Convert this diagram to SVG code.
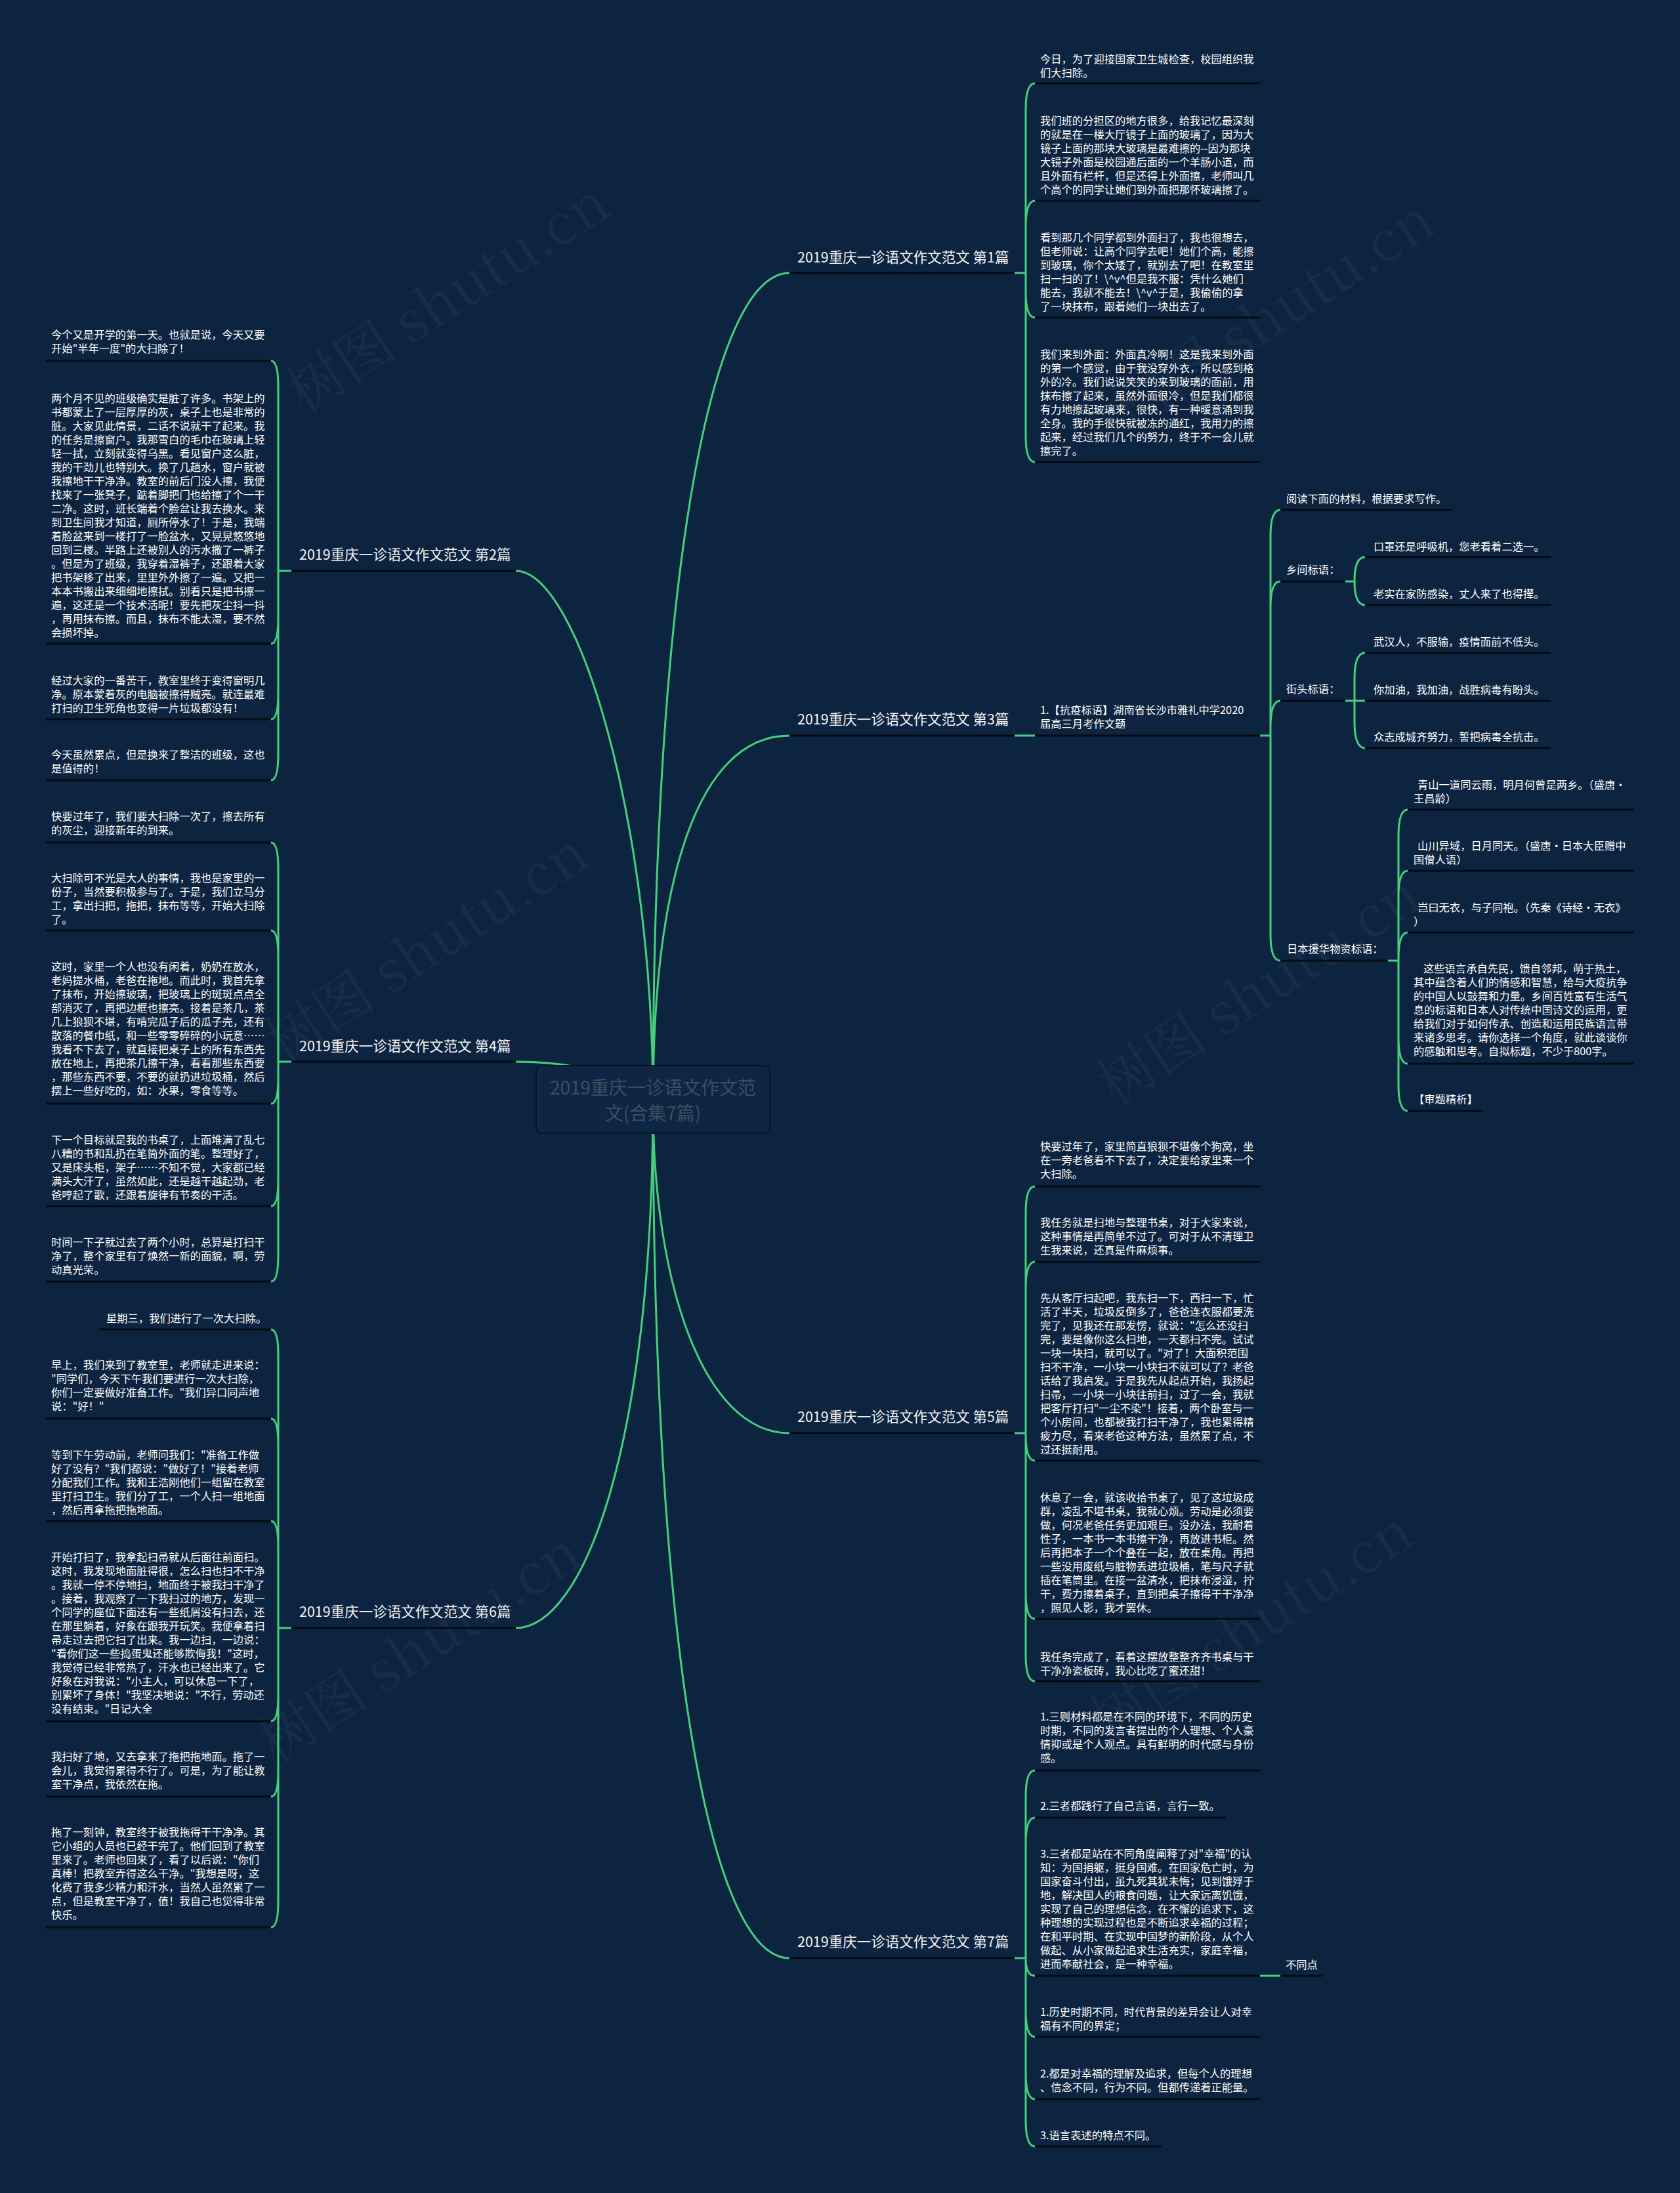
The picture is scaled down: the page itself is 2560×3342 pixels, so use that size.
<svg xmlns="http://www.w3.org/2000/svg" width="2560" height="3342" viewBox="0 0 2560 3342">
<style>
.ul{stroke:#030a14;stroke-width:3;fill:none}
.c{stroke:#45d07c;stroke-width:3;fill:none;stroke-linecap:round}
.t{font-family:"Noto Sans CJK SC","Noto Sans",sans-serif;font-size:16.3px;fill:#ffffff}
.m{font-family:"Noto Sans CJK SC","Noto Sans",sans-serif;font-size:21.5px;fill:#f2f2f2}
.ctr{font-family:"Noto Sans CJK SC","Noto Sans",sans-serif;font-size:28px;fill:#3d4d60;text-anchor:middle}
.wm{font-family:"Noto Serif CJK SC","Noto Sans CJK SC","Liberation Serif",serif;font-size:86px;fill:#ffffff;opacity:0.035;text-anchor:middle}
</style>
<rect width="2560" height="3342" fill="#0d2440"/>
<g id="watermarks">
<text class="wm" x="693" y="480" transform="rotate(-33 693 469)">树图 shutu.cn</text>
<text class="wm" x="1950" y="506" transform="rotate(-33 1950 495)">树图 shutu.cn</text>
<text class="wm" x="661" y="1471" transform="rotate(-33 661 1460)">树图 shutu.cn</text>
<text class="wm" x="1929" y="1535" transform="rotate(-33 1929 1524)">树图 shutu.cn</text>
<text class="wm" x="650" y="2537" transform="rotate(-33 650 2526)">树图 shutu.cn</text>
<text class="wm" x="1918" y="2505" transform="rotate(-33 1918 2494)">树图 shutu.cn</text>
</g>
<g id="connectors">
<path class="c" d="M995 1680 C995 900 1080 416 1203 416"/>
<path class="c" d="M995 1680 C995 1350 1060 1121 1203 1121"/>
<path class="c" d="M995 1680 C995 1250 880 870 786 870"/>
<path class="c" d="M995 1660 C900 1625 850 1618 786 1618"/>
<path class="c" d="M995 1680 C995 1950 1070 2184 1203 2184"/>
<path class="c" d="M995 1680 C995 2500 1080 2984 1203 2984"/>
<path class="c" d="M995 1680 C995 2200 890 2481 786 2481"/>
<path class="c" d="M1546 416 H1563 M1563 416 V167 Q1563 127 1577 127 M1563 416 V346 Q1563 306 1577 306 M1563 416 V444 Q1563 484 1577 484 M1563 416 V664 Q1563 704 1577 704"/>
<path class="c" d="M1546 1121 H1577 M1920 1121 H1936 M1936 1121 V817 Q1936 777 1951 777 M1936 1121 V926 Q1936 886 1951 886 M1936 1121 V1108 Q1936 1068 1951 1068 M1936 1121 V1424 Q1936 1464 1951 1464"/>
<path class="c" d="M2050 886 H2064 M2064 886 Q2064 849 2080 849 M2064 886 Q2064 922 2080 922"/>
<path class="c" d="M2050 1068 H2080 M2064 1068 V1035 Q2064 995 2080 995 M2064 1068 V1100 Q2064 1140 2080 1140"/>
<path class="c" d="M2115 1464 H2131 M2131 1464 V1274 Q2131 1234 2145 1234 M2131 1464 V1367 Q2131 1327 2145 1327 M2131 1464 V1461 Q2131 1421 2145 1421 M2131 1464 V1581 Q2131 1621 2145 1621 M2131 1464 V1653 Q2131 1693 2145 1693"/>
<path class="c" d="M1546 2184 H1563 M1563 2184 V1848 Q1563 1808 1577 1808 M1563 2184 V1963 Q1563 1923 1577 1923 M1563 2184 V2186 Q1563 2226 1577 2226 M1563 2184 V2427 Q1563 2467 1577 2467 M1563 2184 V2522 Q1563 2562 1577 2562"/>
<path class="c" d="M1546 2984 H1563 M1563 2984 V2738 Q1563 2698 1577 2698 M1563 2984 V2810 Q1563 2770 1577 2770 M1563 2984 Q1563 3011 1577 3011 M1563 2984 V3064 Q1563 3104 1577 3104 M1563 2984 V3159 Q1563 3199 1577 3199 M1563 2984 V3231 Q1563 3271 1577 3271 M1920 3011 H1951"/>
<path class="c" d="M444 870 H424 M424 870 V590 Q424 550 413 550 M424 870 V941 Q424 981 413 981 M424 870 V1056 Q424 1096 413 1096 M424 870 V1149 Q424 1189 413 1189"/>
<path class="c" d="M444 1618 H424 M424 1618 V1324 Q424 1284 413 1284 M424 1618 V1458 Q424 1418 413 1418 M424 1618 V1642 Q424 1682 413 1682 M424 1618 V1798 Q424 1838 413 1838 M424 1618 V1913 Q424 1953 413 1953"/>
<path class="c" d="M444 2481 H424 M424 2481 V2066 Q424 2026 413 2026 M424 2481 V2202 Q424 2162 413 2162 M424 2481 V2358 Q424 2318 413 2318 M424 2481 V2583 Q424 2623 413 2623 M424 2481 V2698 Q424 2738 413 2738 M424 2481 V2897 Q424 2937 413 2937"/>
</g>
<g id="center">
<rect x="817" y="1624" width="356" height="103" rx="8" fill="#0e2644" stroke="#07152a" stroke-width="2"/>
<text class="ctr" x="995" y="1668">2019重庆一诊语文作文范</text>
<text class="ctr" x="995" y="1707">文(合集7篇)</text>
</g>
<g id="b1"><path class="ul" d="M1203 416 H1546"/><text class="m" x="1215" y="400">2019重庆一诊语文作文范文 第1篇</text></g>
<g id="b3"><path class="ul" d="M1203 1121 H1546"/><text class="m" x="1215" y="1104">2019重庆一诊语文作文范文 第3篇</text></g>
<g id="b5"><path class="ul" d="M1203 2184 H1546"/><text class="m" x="1215" y="2167">2019重庆一诊语文作文范文 第5篇</text></g>
<g id="b7"><path class="ul" d="M1203 2984 H1546"/><text class="m" x="1215" y="2967">2019重庆一诊语文作文范文 第7篇</text></g>
<g id="b2"><path class="ul" d="M444 870 H786"/><text class="m" x="456" y="853">2019重庆一诊语文作文范文 第2篇</text></g>
<g id="b4"><path class="ul" d="M444 1618 H786"/><text class="m" x="456" y="1602">2019重庆一诊语文作文范文 第4篇</text></g>
<g id="b6"><path class="ul" d="M444 2481 H786"/><text class="m" x="456" y="2464">2019重庆一诊语文作文范文 第6篇</text></g>

<g id="b1-1"><path class="ul" d="M1577 127 H1920"/><text class="t" y="96"><tspan x="1585">今日，为了迎接国家卫生城检查，校园组织我</tspan><tspan x="1585" dy="21">们大扫除。</tspan></text></g>
<g id="b1-2"><path class="ul" d="M1577 306 H1920"/><text class="t" y="190"><tspan x="1585">我们班的分担区的地方很多，给我记忆最深刻</tspan><tspan x="1585" dy="21">的就是在一楼大厅镜子上面的玻璃了，因为大</tspan><tspan x="1585" dy="21">镜子上面的那块大玻璃是最难擦的--因为那块</tspan><tspan x="1585" dy="21">大镜子外面是校园通后面的一个羊肠小道，而</tspan><tspan x="1585" dy="21">且外面有栏杆，但是还得上外面擦，老师叫几</tspan><tspan x="1585" dy="21">个高个的同学让她们到外面把那怀玻璃擦了。</tspan></text></g>
<g id="b1-3"><path class="ul" d="M1577 484 H1920"/><text class="t" y="368"><tspan x="1585">看到那几个同学都到外面扫了，我也很想去，</tspan><tspan x="1585" dy="21">但老师说：让高个同学去吧！她们个高，能擦</tspan><tspan x="1585" dy="21">到玻璃，你个太矮了，就别去了吧！在教室里</tspan><tspan x="1585" dy="21">扫一扫的了！\^v^但是我不服：凭什么她们</tspan><tspan x="1585" dy="21">能去，我就不能去！\^v^于是，我偷偷的拿</tspan><tspan x="1585" dy="21">了一块抹布，跟着她们一块出去了。</tspan></text></g>
<g id="b1-4"><path class="ul" d="M1577 704 H1920"/><text class="t" y="546"><tspan x="1585">我们来到外面：外面真冷啊！这是我来到外面</tspan><tspan x="1585" dy="21">的第一个感觉，由于我没穿外衣，所以感到格</tspan><tspan x="1585" dy="21">外的冷。我们说说笑笑的来到玻璃的面前，用</tspan><tspan x="1585" dy="21">抹布擦了起来，虽然外面很冷，但是我们都很</tspan><tspan x="1585" dy="21">有力地擦起玻璃来，很快，有一种暖意涌到我</tspan><tspan x="1585" dy="21">全身。我的手很快就被冻的通红，我用力的擦</tspan><tspan x="1585" dy="21">起来，经过我们几个的努力，终于不一会儿就</tspan><tspan x="1585" dy="21">擦完了。</tspan></text></g>

<g id="b3-1"><path class="ul" d="M1577 1121 H1920"/><text class="t" y="1088"><tspan x="1585">1.【抗疫标语】湖南省长沙市雅礼中学2020</tspan><tspan x="1585" dy="21">届高三月考作文题</tspan></text></g>
<g id="b3-1-1"><path class="ul" d="M1951 777 H2213"/><text class="t" x="1960" y="766">阅读下面的材料，根据要求写作。</text></g>
<g id="b3-1-2"><path class="ul" d="M1951 886 H2050"/><text class="t" x="1960" y="874">乡间标语：</text></g>
<g id="b3-1-2-1"><path class="ul" d="M2080 849 H2363"/><text class="t" x="2093" y="839">口罩还是呼吸机，您老看着二选一。</text></g>
<g id="b3-1-2-2"><path class="ul" d="M2080 922 H2363"/><text class="t" x="2093" y="911">老实在家防感染，丈人来了也得撵。</text></g>
<g id="b3-1-3"><path class="ul" d="M1951 1068 H2050"/><text class="t" x="1960" y="1056">街头标语：</text></g>
<g id="b3-1-3-1"><path class="ul" d="M2080 995 H2363"/><text class="t" x="2093" y="984">武汉人，不服输，疫情面前不低头。</text></g>
<g id="b3-1-3-2"><path class="ul" d="M2080 1068 H2363"/><text class="t" x="2093" y="1057">你加油，我加油，战胜病毒有盼头。</text></g>
<g id="b3-1-3-3"><path class="ul" d="M2080 1140 H2363"/><text class="t" x="2093" y="1129">众志成城齐努力，誓把病毒全抗击。</text></g>
<g id="b3-1-4"><path class="ul" d="M1951 1464 H2115"/><text class="t" x="1961" y="1452">日本援华物资标语：</text></g>
<g id="b3-1-4-1"><path class="ul" d="M2145 1234 H2490"/><text class="t" y="1202"><tspan x="2160">青山一道同云雨，明月何曾是两乡。（盛唐•</tspan><tspan x="2154" dy="21">王昌龄）</tspan></text></g>
<g id="b3-1-4-2"><path class="ul" d="M2145 1327 H2490"/><text class="t" y="1295"><tspan x="2160">山川异域，日月同天。（盛唐•日本大臣赠中</tspan><tspan x="2154" dy="21">国僧人语）</tspan></text></g>
<g id="b3-1-4-3"><path class="ul" d="M2145 1421 H2490"/><text class="t" y="1389"><tspan x="2160">岂曰无衣，与子同袍。（先秦《诗经•无衣》</tspan><tspan x="2154" dy="21">）</tspan></text></g>
<g id="b3-1-4-4"><path class="ul" d="M2145 1621 H2490"/><text class="t" y="1482"><tspan x="2169">这些语言承自先民，馈自邻邦，萌于热土，</tspan><tspan x="2154" dy="21">其中蕴含着人们的情感和智慧，给与大疫抗争</tspan><tspan x="2154" dy="21">的中国人以鼓舞和力量。乡间百姓富有生活气</tspan><tspan x="2154" dy="21">息的标语和日本人对传统中国诗文的运用，更</tspan><tspan x="2154" dy="21">给我们对于如何传承、创造和运用民族语言带</tspan><tspan x="2154" dy="21">来诸多思考。请你选择一个角度，就此谈谈你</tspan><tspan x="2154" dy="21">的感触和思考。自拟标题，不少于800字。</tspan></text></g>
<g id="b3-1-4-5"><path class="ul" d="M2145 1693 H2260"/><text class="t" x="2154" y="1681">【审题精析】</text></g>

<g id="b5-1"><path class="ul" d="M1577 1808 H1920"/><text class="t" y="1753"><tspan x="1585">快要过年了，家里简直狼狈不堪像个狗窝，坐</tspan><tspan x="1585" dy="21">在一旁老爸看不下去了，决定要给家里来一个</tspan><tspan x="1585" dy="21">大扫除。</tspan></text></g>
<g id="b5-2"><path class="ul" d="M1577 1923 H1920"/><text class="t" y="1869"><tspan x="1585">我任务就是扫地与整理书桌，对于大家来说，</tspan><tspan x="1585" dy="21">这种事情是再简单不过了。可对于从不清理卫</tspan><tspan x="1585" dy="21">生我来说，还真是件麻烦事。</tspan></text></g>
<g id="b5-3"><path class="ul" d="M1577 2226 H1920"/><text class="t" y="1984"><tspan x="1585">先从客厅扫起吧，我东扫一下，西扫一下，忙</tspan><tspan x="1585" dy="21">活了半天，垃圾反倒多了，爸爸连衣服都要洗</tspan><tspan x="1585" dy="21">完了，见我还在那发愣，就说："怎么还没扫</tspan><tspan x="1585" dy="21">完，要是像你这么扫地，一天都扫不完。试试</tspan><tspan x="1585" dy="21">一块一块扫，就可以了。"对了！大面积范围</tspan><tspan x="1585" dy="21">扫不干净，一小块一小块扫不就可以了？老爸</tspan><tspan x="1585" dy="21">话给了我启发。于是我先从起点开始，我扬起</tspan><tspan x="1585" dy="21">扫帚，一小块一小块往前扫，过了一会，我就</tspan><tspan x="1585" dy="21">把客厅打扫"一尘不染"！接着，两个卧室与一</tspan><tspan x="1585" dy="21">个小房间，也都被我打扫干净了，我也累得精</tspan><tspan x="1585" dy="21">疲力尽，看来老爸这种方法，虽然累了点，不</tspan><tspan x="1585" dy="21">过还挺耐用。</tspan></text></g>
<g id="b5-4"><path class="ul" d="M1577 2467 H1920"/><text class="t" y="2288"><tspan x="1585">休息了一会，就该收拾书桌了，见了这垃圾成</tspan><tspan x="1585" dy="21">群，凌乱不堪书桌，我就心烦。劳动是必须要</tspan><tspan x="1585" dy="21">做，何况老爸任务更加艰巨。没办法，我耐着</tspan><tspan x="1585" dy="21">性子，一本书一本书擦干净，再放进书柜。然</tspan><tspan x="1585" dy="21">后再把本子一个个叠在一起，放在桌角。再把</tspan><tspan x="1585" dy="21">一些没用废纸与脏物丢进垃圾桶，笔与尺子就</tspan><tspan x="1585" dy="21">插在笔筒里。在接一盆清水，把抹布浸湿，拧</tspan><tspan x="1585" dy="21">干，费力擦着桌子，直到把桌子擦得干干净净</tspan><tspan x="1585" dy="21">，照见人影，我才罢休。</tspan></text></g>
<g id="b5-5"><path class="ul" d="M1577 2562 H1920"/><text class="t" y="2531"><tspan x="1585">我任务完成了，看着这摆放整整齐齐书桌与干</tspan><tspan x="1585" dy="21">干净净瓷板砖，我心比吃了蜜还甜！</tspan></text></g>

<g id="b7-1"><path class="ul" d="M1577 2698 H1920"/><text class="t" y="2622"><tspan x="1585">1.三则材料都是在不同的环境下，不同的历史</tspan><tspan x="1585" dy="21">时期，不同的发言者提出的个人理想、个人豪</tspan><tspan x="1585" dy="21">情抑或是个人观点。具有鲜明的时代感与身份</tspan><tspan x="1585" dy="21">感。</tspan></text></g>
<g id="b7-2"><path class="ul" d="M1577 2770 H1868"/><text class="t" x="1585" y="2758">2.三者都践行了自己言语，言行一致。</text></g>
<g id="b7-3"><path class="ul" d="M1577 3011 H1920"/><text class="t" y="2831"><tspan x="1585">3.三者都是站在不同角度阐释了对"幸福"的认</tspan><tspan x="1585" dy="21">知：为国捐躯，挺身国难。在国家危亡时，为</tspan><tspan x="1585" dy="21">国家奋斗付出，虽九死其犹未悔；见到饿殍于</tspan><tspan x="1585" dy="21">地，解决国人的粮食问题，让大家远离饥饿，</tspan><tspan x="1585" dy="21">实现了自己的理想信念，在不懈的追求下，这</tspan><tspan x="1585" dy="21">种理想的实现过程也是不断追求幸福的过程；</tspan><tspan x="1585" dy="21">在和平时期、在实现中国梦的新阶段，从个人</tspan><tspan x="1585" dy="21">做起、从小家做起追求生活充实，家庭幸福，</tspan><tspan x="1585" dy="21">进而奉献社会，是一种幸福。</tspan></text></g>
<g id="b7-3-1"><path class="ul" d="M1951 3011 H2015"/><text class="t" x="1959" y="3000">不同点</text></g>
<g id="b7-4"><path class="ul" d="M1577 3104 H1920"/><text class="t" y="3072"><tspan x="1585">1.历史时期不同，时代背景的差异会让人对幸</tspan><tspan x="1585" dy="21">福有不同的界定；</tspan></text></g>
<g id="b7-5"><path class="ul" d="M1577 3199 H1920"/><text class="t" y="3166"><tspan x="1585">2.都是对幸福的理解及追求，但每个人的理想</tspan><tspan x="1585" dy="21">、信念不同，行为不同。但都传递着正能量。</tspan></text></g>
<g id="b7-6"><path class="ul" d="M1577 3271 H1770"/><text class="t" x="1585" y="3260">3.语言表述的特点不同。</text></g>

<g id="b2-1"><path class="ul" d="M70 550 H413"/><text class="t" y="516"><tspan x="78">今个又是开学的第一天。也就是说，今天又要</tspan><tspan x="78" dy="21">开始"半年一度"的大扫除了！</tspan></text></g>
<g id="b2-2"><path class="ul" d="M70 981 H413"/><text class="t" y="613"><tspan x="78">两个月不见的班级确实是脏了许多。书架上的</tspan><tspan x="78" dy="21">书都蒙上了一层厚厚的灰，桌子上也是非常的</tspan><tspan x="78" dy="21">脏。大家见此情景，二话不说就干了起来。我</tspan><tspan x="78" dy="21">的任务是擦窗户。我那雪白的毛巾在玻璃上轻</tspan><tspan x="78" dy="21">轻一拭，立刻就变得乌黑。看见窗户这么脏，</tspan><tspan x="78" dy="21">我的干劲儿也特别大。换了几趟水，窗户就被</tspan><tspan x="78" dy="21">我擦地干干净净。教室的前后门没人擦，我便</tspan><tspan x="78" dy="21">找来了一张凳子，踮着脚把门也给擦了个一干</tspan><tspan x="78" dy="21">二净。这时，班长端着个脸盆让我去换水。来</tspan><tspan x="78" dy="21">到卫生间我才知道，厕所停水了！于是，我端</tspan><tspan x="78" dy="21">着脸盆来到一楼打了一脸盆水，又晃晃悠悠地</tspan><tspan x="78" dy="21">回到三楼。半路上还被别人的污水撒了一裤子</tspan><tspan x="78" dy="21">。但是为了班级，我穿着湿裤子，还跟着大家</tspan><tspan x="78" dy="21">把书架移了出来，里里外外擦了一遍。又把一</tspan><tspan x="78" dy="21">本本书搬出来细细地擦拭。别看只是把书擦一</tspan><tspan x="78" dy="21">遍，这还是一个技术活呢！要先把灰尘抖一抖</tspan><tspan x="78" dy="21">，再用抹布擦。而且，抹布不能太湿，要不然</tspan><tspan x="78" dy="21">会损坏掉。</tspan></text></g>
<g id="b2-3"><path class="ul" d="M70 1096 H413"/><text class="t" y="1043"><tspan x="78">经过大家的一番苦干，教室里终于变得窗明几</tspan><tspan x="78" dy="21">净。原本蒙着灰的电脑被擦得贼亮。就连最难</tspan><tspan x="78" dy="21">打扫的卫生死角也变得一片垃圾都没有！</tspan></text></g>
<g id="b2-4"><path class="ul" d="M70 1189 H413"/><text class="t" y="1156"><tspan x="78">今天虽然累点，但是换来了整洁的班级，这也</tspan><tspan x="78" dy="21">是值得的！</tspan></text></g>

<g id="b4-1"><path class="ul" d="M70 1284 H413"/><text class="t" y="1250"><tspan x="78">快要过年了，我们要大扫除一次了，擦去所有</tspan><tspan x="78" dy="21">的灰尘，迎接新年的到来。</tspan></text></g>
<g id="b4-2"><path class="ul" d="M70 1418 H413"/><text class="t" y="1344"><tspan x="78">大扫除可不光是大人的事情，我也是家里的一</tspan><tspan x="78" dy="21">份子，当然要积极参与了。于是，我们立马分</tspan><tspan x="78" dy="21">工，拿出扫把，拖把，抹布等等，开始大扫除</tspan><tspan x="78" dy="21">了。</tspan></text></g>
<g id="b4-3"><path class="ul" d="M70 1682 H413"/><text class="t" y="1479"><tspan x="78">这时，家里一个人也没有闲着，奶奶在放水，</tspan><tspan x="78" dy="21">老妈提水桶，老爸在拖地。而此时，我首先拿</tspan><tspan x="78" dy="21">了抹布，开始擦玻璃，把玻璃上的斑斑点点全</tspan><tspan x="78" dy="21">部消灭了，再把边框也擦亮。接着是茶几，茶</tspan><tspan x="78" dy="21">几上狼狈不堪，有啃完瓜子后的瓜子壳，还有</tspan><tspan x="78" dy="21">散落的餐巾纸，和一些零零碎碎的小玩意……</tspan><tspan x="78" dy="21">我看不下去了，就直接把桌子上的所有东西先</tspan><tspan x="78" dy="21">放在地上，再把茶几擦干净，看看那些东西要</tspan><tspan x="78" dy="21">，那些东西不要，不要的就扔进垃圾桶，然后</tspan><tspan x="78" dy="21">摆上一些好吃的，如：水果，零食等等。</tspan></text></g>
<g id="b4-4"><path class="ul" d="M70 1838 H413"/><text class="t" y="1743"><tspan x="78">下一个目标就是我的书桌了，上面堆满了乱七</tspan><tspan x="78" dy="21">八糟的书和乱扔在笔筒外面的笔。整理好了，</tspan><tspan x="78" dy="21">又是床头柜，架子……不知不觉，大家都已经</tspan><tspan x="78" dy="21">满头大汗了，虽然如此，还是越干越起劲，老</tspan><tspan x="78" dy="21">爸哼起了歌，还跟着旋律有节奏的干活。</tspan></text></g>
<g id="b4-5"><path class="ul" d="M70 1953 H413"/><text class="t" y="1899"><tspan x="78">时间一下子就过去了两个小时，总算是打扫干</tspan><tspan x="78" dy="21">净了，整个家里有了焕然一新的面貌，啊，劳</tspan><tspan x="78" dy="21">动真光荣。</tspan></text></g>

<g id="b6-1"><path class="ul" d="M152 2026 H413"/><text class="t" x="162" y="2015">星期三，我们进行了一次大扫除。</text></g>
<g id="b6-2"><path class="ul" d="M70 2162 H413"/><text class="t" y="2086"><tspan x="78">早上，我们来到了教室里，老师就走进来说：</tspan><tspan x="78" dy="21">"同学们，今天下午我们要进行一次大扫除，</tspan><tspan x="78" dy="21">你们一定要做好准备工作。"我们异口同声地</tspan><tspan x="78" dy="21">说："好！"</tspan></text></g>
<g id="b6-3"><path class="ul" d="M70 2318 H413"/><text class="t" y="2223"><tspan x="78">等到下午劳动前，老师问我们："准备工作做</tspan><tspan x="78" dy="21">好了没有？"我们都说："做好了！"接着老师</tspan><tspan x="78" dy="21">分配我们工作。我和王浩刚他们一组留在教室</tspan><tspan x="78" dy="21">里打扫卫生。我们分了工，一个人扫一组地面</tspan><tspan x="78" dy="21">，然后再拿拖把拖地面。</tspan></text></g>
<g id="b6-4"><path class="ul" d="M70 2623 H413"/><text class="t" y="2379"><tspan x="78">开始打扫了，我拿起扫帚就从后面往前面扫。</tspan><tspan x="78" dy="21">这时，我发现地面脏得很，怎么扫也扫不干净</tspan><tspan x="78" dy="21">。我就一停不停地扫，地面终于被我扫干净了</tspan><tspan x="78" dy="21">。接着，我观察了一下我扫过的地方，发现一</tspan><tspan x="78" dy="21">个同学的座位下面还有一些纸屑没有扫去，还</tspan><tspan x="78" dy="21">在那里躺着，好象在跟我开玩笑。我便拿着扫</tspan><tspan x="78" dy="21">帚走过去把它扫了出来。我一边扫，一边说：</tspan><tspan x="78" dy="21">"看你们这一些捣蛋鬼还能够欺侮我！"这时，</tspan><tspan x="78" dy="21">我觉得已经非常热了，汗水也已经出来了。它</tspan><tspan x="78" dy="21">好象在对我说："小主人，可以休息一下了，</tspan><tspan x="78" dy="21">别累坏了身体！"我坚决地说："不行，劳动还</tspan><tspan x="78" dy="21">没有结束。"日记大全</tspan></text></g>
<g id="b6-5"><path class="ul" d="M70 2738 H413"/><text class="t" y="2683"><tspan x="78">我扫好了地，又去拿来了拖把拖地面。拖了一</tspan><tspan x="78" dy="21">会儿，我觉得累得不行了。可是，为了能让教</tspan><tspan x="78" dy="21">室干净点，我依然在拖。</tspan></text></g>
<g id="b6-6"><path class="ul" d="M70 2937 H413"/><text class="t" y="2798"><tspan x="78">拖了一刻钟，教室终于被我拖得干干净净。其</tspan><tspan x="78" dy="21">它小组的人员也已经干完了。他们回到了教室</tspan><tspan x="78" dy="21">里来了。老师也回来了，看了以后说："你们</tspan><tspan x="78" dy="21">真棒！把教室弄得这么干净。"我想是呀，这</tspan><tspan x="78" dy="21">化费了我多少精力和汗水，当然人虽然累了一</tspan><tspan x="78" dy="21">点，但是教室干净了，值！我自己也觉得非常</tspan><tspan x="78" dy="21">快乐。</tspan></text></g>
</svg>
